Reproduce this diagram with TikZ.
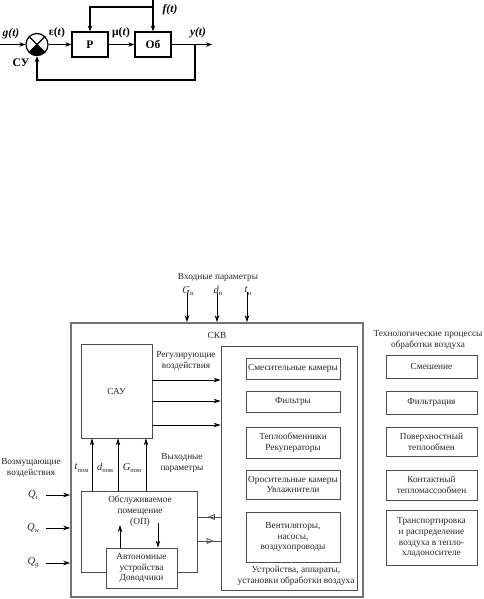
\documentclass[tikz,border=0pt]{standalone}
\usepackage{fontspec}
\setmainfont{Liberation Serif}
\usetikzlibrary{arrows.meta,decorations.markings,calc}
\newcommand\lowfont{\fontsize{9.3}{10.8}\selectfont}
\newcommand\varfont{\fontsize{10.5}{12}\selectfont}
\newcommand\topfont{\bfseries\fontsize{11.5}{13}\selectfont}
\newcommand\lowsub[1]{\raisebox{-0.45ex}{\fontsize{6.5}{6.5}\selectfont #1}}
\definecolor{ln}{gray}{0.3}
\definecolor{lnout}{gray}{0.45}
\definecolor{txt}{gray}{0.15}
\begin{document}
\begin{tikzpicture}[x=1pt,y=-1pt,
  tarrow/.style={line width=1.2pt,-{Stealth[length=6pt,width=4.5pt]}},
  tbox/.style={draw,line width=1.2pt,minimum width=36pt,minimum height=25pt,inner sep=0pt,font=\topfont},
  tlbl/.style={inner sep=0pt,font=\topfont},
  sumc/.style={draw,circle,line width=1.2pt,minimum size=22pt,inner sep=0pt},
  box/.style={draw=ln,line width=0.8pt,inner sep=0pt,align=center,font=\lowfont,text=txt},
  obox/.style={draw=lnout,line width=1.6pt,inner sep=0pt},
  lbl/.style={inner sep=0pt,align=center,font=\lowfont,text=txt},
  vlbl/.style={inner sep=0pt,font=\varfont,text=txt},
  arr/.style={line width=0.8pt,-{Stealth[length=7pt,width=4.5pt]}},
  midarrow/.style={line width=0.8pt,draw=ln,postaction={decorate},
    decoration={markings,mark=at position #1 with {\arrow{Triangle[open,length=7pt,width=6pt,line width=0.8pt]}}}},
]
\useasboundingbox (0,0) rectangle (484,599);

% ---------- top diagram ----------
\node[sumc] (s) at (37,44.5) {};
\fill (s.center) -- (s.225) arc[start angle=225,end angle=315,radius=11pt] -- cycle;
\draw[line width=1.2pt] (s.45) -- (s.225) (s.135) -- (s.315);
\node[tbox] (p) at (90,44.5) {Р};
\node[tbox] (ob) at (153,44.5) {Об};
\coordinate (in) at (0,44.5);
\coordinate (br) at (195,44.5);
\coordinate (out) at (212,44.5);
\coordinate (fb) at (195,80);
\coordinate (ftop) at (153,0);
\coordinate (fj) at (153,7);
\draw[tarrow] (in) -- (s.west);
\draw[tarrow] (s.east) -- (p.west);
\draw[tarrow] (p.east) -- (ob.west);
\draw[tarrow] (ob.east) -- (out);
\draw[tarrow] (br) -- (fb) -| (s.south);
\draw[tarrow] (ftop) -- (ob.north);
\draw[tarrow] (fj) -| (p.north);
\node[tlbl] (lg) at (11,33.5) {\itshape g(t)};
\node[tlbl] (le) at (57,33) {ε(\textit{t})};
\node[tlbl] (lm) at (121,33) {μ(\textit{t})};
\node[tlbl] (ly) at (198,33) {\itshape y(t)};
\node[tlbl] (lf) at (170,10) {\itshape f(t)};
\node[tlbl] (lsu) at (21,63) {СУ};

% ---------- lower diagram ----------
\node[obox,minimum width=292pt,minimum height=274pt] (skv) at (217,460) {};
\node[lbl] (skvl) at (217,335) {СКВ};
\node[lbl] (inp) at (218,277) {Входные параметры};
\node[vlbl] (gn) at (188,291) {\textit{G}\lowsub{н}};
\node[vlbl] (dn) at (218,291) {\textit{d}\lowsub{н}};
\node[vlbl] (tn) at (248,291) {\textit{t}\lowsub{н}};
\coordinate (g0) at (187,0);
\coordinate (d0) at (217,0);
\coordinate (t0) at (247,0);
\draw[arr] ([yshift=3pt]gn.south -| g0) -- (skv.north -| g0);
\draw[arr] ([yshift=3pt]dn.south -| d0) -- (skv.north -| d0);
\draw[arr] ([yshift=3pt]tn.south -| t0) -- (skv.north -| t0);

\node[box,minimum width=71pt,minimum height=94pt] (sau) at (116.5,391) {САУ};
\node[box,minimum width=136pt,minimum height=244pt] (dev) at (289,468) {};
\node[lbl] (reg) at (186,360.5) {Регулирующие\\воздействия};
\coordinate (r1) at (0,380);
\coordinate (r2) at (0,401);
\coordinate (r3) at (0,425);
\draw[arr] (sau.east |- r1) -- (dev.west |- r1);
\draw[arr] (sau.east |- r2) -- (dev.west |- r2);
\draw[arr] (sau.east |- r3) -- (dev.west |- r3);

\node[box,minimum width=94pt,minimum height=21pt] (b1) at (293,368.5) {Смесительные камеры};
\node[box,minimum width=94pt,minimum height=21pt] (b2) at (293,401.5) {Фильтры};
\node[box,minimum width=94pt,minimum height=31pt] (b3) at (293,442.5) {Теплообменники\\Рекуператоры};
\node[box,minimum width=94pt,minimum height=29pt] (b4) at (293,484.5) {Оросительные камеры\\Увлажнители};
\node[box,minimum width=94pt,minimum height=50pt] (b5) at (293,537) {Вентиляторы,\\насосы,\\воздухопроводы};
\node[lbl] (devl) at (296,575.5) {Устройства, аппараты,\\установки обработки воздуха};

\node[lbl] (techl) at (428,340) {Технологические процессы\\обработки воздуха};
\node[box,minimum width=91pt,minimum height=23pt] (c1) at (431.5,366.5) {Смешение};
\node[box,minimum width=91pt,minimum height=23pt] (c2) at (431.5,402.5) {Фильтрация};
\node[box,minimum width=91pt,minimum height=29pt] (c3) at (431.5,441.5) {Поверхностный\\теплообмен};
\node[box,minimum width=91pt,minimum height=30pt] (c4) at (431.5,485) {Контактный\\тепломассообмен};
\node[box,minimum width=91pt,minimum height=55pt] (c5) at (431.5,537.5) {Транспортировка\\и распределение\\воздуха в тепло-\\хладоносителе};

\node[box,minimum width=116pt,minimum height=81pt] (op) at (139,531.5) {};
\node[lbl] (opl) at (140,511) {Обслуживаемое\\помещение\\(ОП)};
\node[box,fill=white,minimum width=71pt,minimum height=40pt] (au) at (141.5,568) {Автономные\\устройства\\Доводчики};
\coordinate (a1) at (120,525);
\coordinate (a2) at (158,523);
\draw[arr] (au.north -| a1) -- (a1);
\draw[arr] (a2) -- (au.north -| a2);

\coordinate (u1) at (92,0);
\coordinate (u2) at (118,0);
\coordinate (u3) at (146,0);
\draw[arr] (op.north -| u1) -- (sau.south -| u1);
\draw[arr] (op.north -| u2) -- (sau.south -| u2);
\draw[arr] (op.north -| u3) -- (sau.south -| u3);
\node[vlbl] (tp) at (81.5,468) {\textit{t}\lowsub{пом}};
\node[vlbl] (dp) at (105,468) {\textit{d}\lowsub{пом}};
\node[vlbl] (gp) at (132,468) {\textit{G}\lowsub{пом}};
\node[lbl] (outl) at (182,463) {Выходные\\параметры};

\coordinate (h1) at (0,517);
\coordinate (h2) at (0,541);
\draw[midarrow=0.55] (dev.west |- h1) -- (op.east |- h1);
\draw[midarrow=0.7] (op.east |- h2) -- (dev.west |- h2);

\node[lbl] (vozl) at (31,468) {Возмущающие\\воздействия};
\node[vlbl] (qt) at (33,495) {\textit{Q}\lowsub{\textit{t}}};
\node[vlbl] (qw) at (33,528) {\textit{Q}\lowsub{\textit{w}}};
\node[vlbl] (qg) at (33,563) {\textit{Q}\lowsub{\textit{g}}};
\coordinate (qx) at (46,0);
\draw[arr] (qt -| qx) -- (skv.west |- qt);
\draw[arr] (qw -| qx) -- (skv.west |- qw);
\draw[arr] (qg -| qx) -- (skv.west |- qg);
\end{tikzpicture}
\end{document}
